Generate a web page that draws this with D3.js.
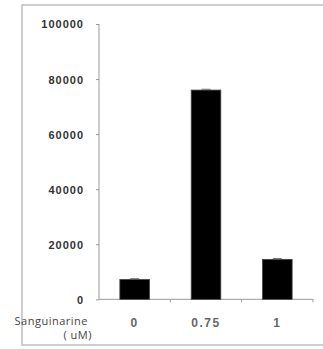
<!DOCTYPE html>
<html><head><meta charset="utf-8">
<script src="https://cdn.jsdelivr.net/npm/d3@7/dist/d3.min.js"></script>
<style>body{margin:0;background:#fff;}svg{display:block;}</style>
</head><body>
<svg id="c" width="323" height="349"></svg>
<script>
const categories = ["0", "0.75", "1"];
const values = [7200, 76000, 14500];
const errors = [300, 300, 300];
const yTicks = [0, 20000, 40000, 60000, 80000, 100000];
const xTitle = ["Sanguinarine", "( uM)"];

const svg = d3.select("#c");
// frame
svg.append("rect").attr("x", 22).attr("y", 5).attr("width", 340).attr("height", 340)
  .attr("fill", "none").attr("stroke", "#bdbdbd").attr("stroke-width", 1.5);

const x = d3.scaleBand().domain(categories).range([99, 313]).paddingInner(0.585).paddingOuter(0.2925);
const y = d3.scaleLinear().domain([0, 100000]).range([299.3, 24]);
const step = x.step();

// y axis
const ya = svg.append("g").attr("transform", "translate(99,0)")
  .call(d3.axisLeft(y).tickValues(yTicks).tickSize(3).tickPadding(12).tickFormat(d3.format("d")));
ya.select(".domain").attr("stroke", "#999").attr("d", "M0," + y(100000) + "V" + y(0));
ya.selectAll(".tick line").attr("stroke", "#999");
ya.selectAll(".tick text").attr("font-family", "Liberation Sans, Arial, sans-serif")
  .attr("font-size", 11).attr("font-weight", "bold").attr("fill", "#333")
  .style("letter-spacing", "1px").attr("dy", "0.36em");

// x axis
const xa = svg.append("g").attr("transform", "translate(0," + y(0) + ")");
xa.append("line").attr("x1", 99).attr("x2", 313).attr("stroke", "#999");
xa.selectAll("line.tk").data(categories).enter().append("line").attr("class", "tk")
  .attr("x1", d => x(d) + x.bandwidth() / 2 + step / 2).attr("x2", d => x(d) + x.bandwidth() / 2 + step / 2)
  .attr("y1", 0).attr("y2", 3).attr("stroke", "#999");
xa.selectAll("text").data(categories).enter().append("text")
  .attr("x", d => x(d) + x.bandwidth() / 2).attr("y", 27.4)
  .attr("text-anchor", "middle").attr("font-family", "Liberation Sans, Arial, sans-serif")
  .attr("font-size", 12).attr("font-weight", "bold").attr("fill", "#666")
  .style("letter-spacing", "1.5px").text(d => d);

// bars
svg.selectAll("rect.bar").data(values).enter().append("rect").attr("class", "bar")
  .attr("x", (d, i) => x(categories[i])).attr("width", x.bandwidth())
  .attr("y", d => y(d)).attr("height", d => y(0) - y(d))
  .attr("fill", "#000").attr("stroke", "#444").attr("stroke-width", 0.8);

// error bars
svg.selectAll("line.err").data(values).enter().append("line").attr("class", "err")
  .attr("x1", (d, i) => x(categories[i]) + x.bandwidth() / 2 - 4.5)
  .attr("x2", (d, i) => x(categories[i]) + x.bandwidth() / 2 + 4.5)
  .attr("y1", (d, i) => y(d + errors[i])).attr("y2", (d, i) => y(d + errors[i]))
  .attr("stroke", "#555").attr("stroke-width", 0.8);

// x title
svg.append("text").attr("x", 88).attr("y", 325).attr("text-anchor", "end")
  .attr("font-family", "Open Sans, sans-serif").attr("font-size", 11).attr("fill", "#444")
  .style("letter-spacing", "0.5px").text(xTitle[0]);
svg.append("text").attr("x", 92).attr("y", 339).attr("text-anchor", "end")
  .attr("font-family", "Open Sans, sans-serif").attr("font-size", 11).attr("fill", "#444")
  .style("letter-spacing", "0.5px").text(xTitle[1]);
</script>
</body></html>
